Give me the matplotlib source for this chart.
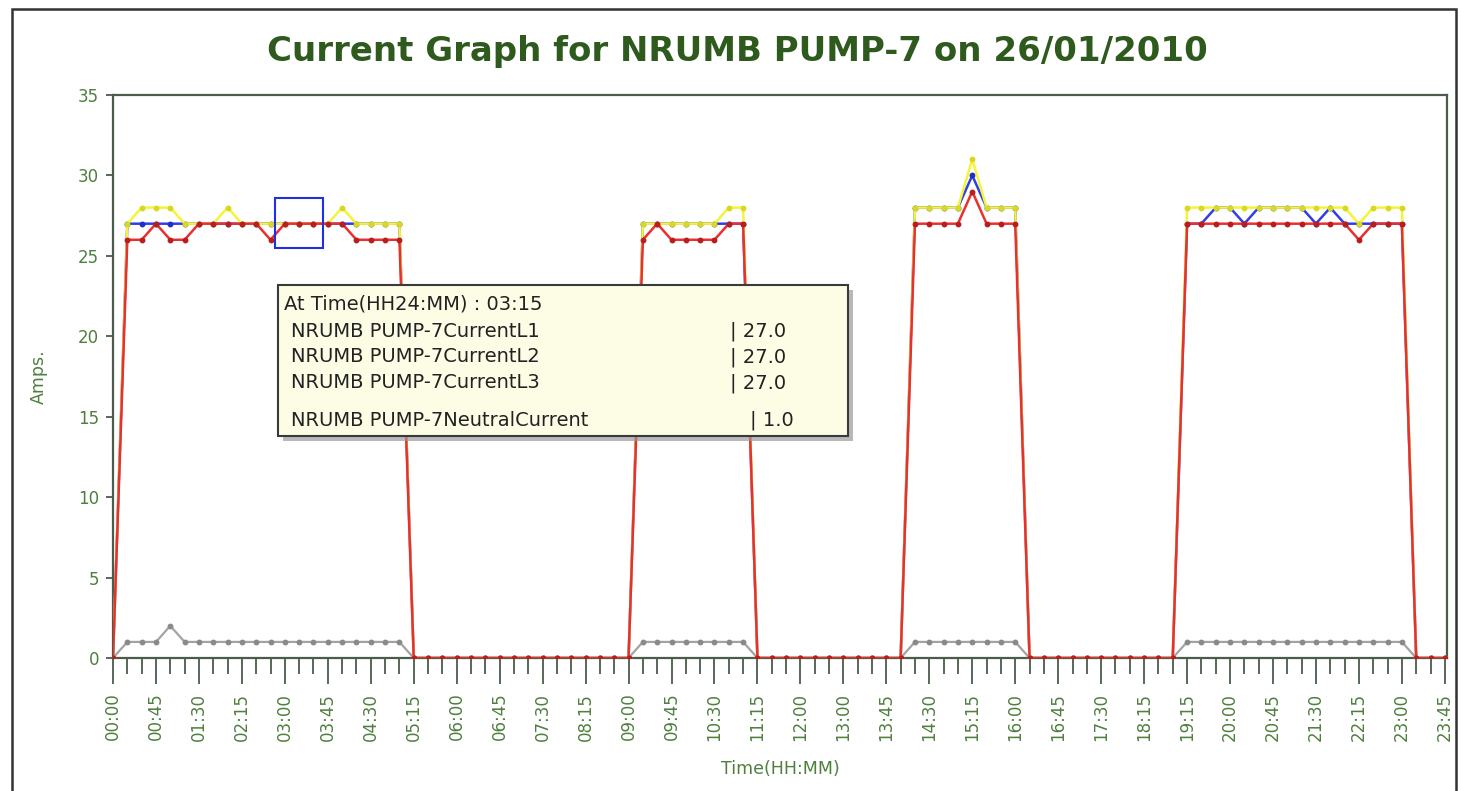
import matplotlib
matplotlib.use("Agg")
import matplotlib.pyplot as plt
from matplotlib.patches import Rectangle

# ---------------- data ----------------
missing_samples = ["12:45", "19:00"]
times = [f"{h:02d}:{m:02d}" for h in range(24) for m in (0, 15, 30, 45)
         if f"{h:02d}:{m:02d}" not in missing_samples]

current_l1 = ([0] +
              [27, 27, 27, 27, 27, 27, 27, 27, 27, 27, 27, 27, 27, 27, 27, 27, 27, 27, 27, 27] +
              [0] * 16 +
              [27, 27, 27, 27, 27, 27, 27, 27] +
              [0] * 11 +
              [28, 28, 28, 28, 30, 28, 28, 28] +
              [0] * 11 +
              [27, 27, 28, 28, 27, 28, 28, 28, 28, 27, 28, 27, 27, 27, 27, 27] +
              [0] * 3)

current_l2 = ([0] +
              [27, 28, 28, 28, 27, 27, 27, 28, 27, 27, 27, 27, 27, 27, 27, 28, 27, 27, 27, 27] +
              [0] * 16 +
              [27, 27, 27, 27, 27, 27, 28, 28] +
              [0] * 11 +
              [28, 28, 28, 28, 31, 28, 28, 28] +
              [0] * 11 +
              [28, 28, 28, 28, 28, 28, 28, 28, 28, 28, 28, 28, 27, 28, 28, 28] +
              [0] * 3)

current_l3 = ([0] +
              [26, 26, 27, 26, 26, 27, 27, 27, 27, 27, 26, 27, 27, 27, 27, 27, 26, 26, 26, 26] +
              [0] * 16 +
              [26, 27, 26, 26, 26, 26, 27, 27] +
              [0] * 11 +
              [27, 27, 27, 27, 29, 27, 27, 27] +
              [0] * 11 +
              [27, 27, 27, 27, 27, 27, 27, 27, 27, 27, 27, 27, 26, 27, 27, 27] +
              [0] * 3)

neutral = ([0] +
           [1, 1, 1, 2, 1, 1, 1, 1, 1, 1, 1, 1, 1, 1, 1, 1, 1, 1, 1, 1] +
           [0] * 16 +
           [1, 1, 1, 1, 1, 1, 1, 1] +
           [0] * 11 +
           [1, 1, 1, 1, 1, 1, 1, 1] +
           [0] * 11 +
           [1, 1, 1, 1, 1, 1, 1, 1, 1, 1, 1, 1, 1, 1, 1, 1] +
           [0] * 3)

series_names = ["NRUMB PUMP-7CurrentL1", "NRUMB PUMP-7CurrentL2",
                "NRUMB PUMP-7CurrentL3", "NRUMB PUMP-7NeutralCurrent"]
highlight_time = "03:15"
title = "Current Graph for NRUMB PUMP-7 on 26/01/2010"
y_ticks = [0, 5, 10, 15, 20, 25, 30, 35]

# ---------------- figure ----------------
W, H = 1462, 791
fig = plt.figure(figsize=(W / 100, H / 100), dpi=100)
fig.patch.set_facecolor("white")


def fx(px):
    return px / W


def fy(py):
    return 1 - py / H


ax = fig.add_axes([fx(113), fy(658), fx(1447) - fx(113), fy(95) - fy(658)])
x = list(range(len(times)))

spine_c = "#4c5c4c"
lab_c = "#4f7f3f"

ax.plot(x, neutral, color="#a3a3a3", lw=1.6, marker="o", ms=3.2,
        mfc="#8a8a8a", mec="#8a8a8a", zorder=2)
ax.plot(x, current_l1, color="#2e3ee8", lw=1.8, marker="o", ms=3.2,
        mfc="#2030c0", mec="#2030c0", zorder=3)
ax.plot(x, current_l2, color="#f4f43a", lw=1.8, marker="o", ms=3.2,
        mfc="#d8d820", mec="#d8d820", zorder=4)
ax.plot(x, current_l3, color="#e8302e", lw=1.8, marker="o", ms=3.2,
        mfc="#b81e1e", mec="#b81e1e", zorder=5)

ax.set_xlim(0, len(times) - 1 + 0.15)
ax.set_ylim(0, 35)

ax.set_yticks(y_ticks)
ax.set_yticklabels([str(v) for v in y_ticks])
ax.set_xticks(x[::3])
ax.set_xticklabels(times[::3], rotation=90)
ax.set_xticks(x, minor=True)

ax.tick_params(axis="x", which="major", length=19, width=1.3, color=spine_c,
               labelsize=12, labelcolor=lab_c, pad=6)
ax.tick_params(axis="x", which="minor", length=11.5, width=1.3, color=spine_c)
ax.tick_params(axis="y", which="major", length=5, width=1.3, color=spine_c,
               labelsize=12, labelcolor=lab_c, pad=5)
for s in ax.spines.values():
    s.set_color(spine_c)
    s.set_linewidth(1.6)

ax.set_xlabel("Time(HH:MM)", fontsize=12.5, color=lab_c, labelpad=14)
ax.set_ylabel("Amps.", fontsize=12.5, color=lab_c, labelpad=22)

# highlight box around hovered point
hi = times.index(highlight_time)
ax.add_patch(Rectangle((hi - 1.68, 25.5), 3.35, 3.1, fill=False,
                       edgecolor="#2030e0", lw=1.5, zorder=6))

# title
fig.text(fx(737), fy(52), title, ha="center", va="center", fontsize=24.5,
         fontweight="bold", color="#2e5a1e")

# outer frame
fig.patches.append(Rectangle((fx(12), fy(800)), fx(1456) - fx(12), fy(9) - fy(800),
                             transform=fig.transFigure, fill=False,
                             edgecolor="#333333", lw=1.8, clip_on=False))

# tooltip
bx0, by0, bx1, by1 = 278, 285, 848, 436
fig.patches.append(Rectangle((fx(bx0 + 5), fy(by1 + 5)), fx(bx1) - fx(bx0),
                             fy(by0) - fy(by1), transform=fig.transFigure,
                             facecolor="#9a9a9a", edgecolor="none", alpha=0.7,
                             zorder=10))
fig.patches.append(Rectangle((fx(bx0), fy(by1)), fx(bx1) - fx(bx0),
                             fy(by0) - fy(by1), transform=fig.transFigure,
                             facecolor="#fdfde6", edgecolor="#3a3a3a", lw=1.5,
                             zorder=11))
tip_kw = dict(fontsize=14, color="#222222", va="center", zorder=12)
fig.text(fx(284), fy(304), f"At Time(HH24:MM) : {highlight_time}", **tip_kw)
vals = [current_l1[hi], current_l2[hi], current_l3[hi], neutral[hi]]
rows_y = [331, 357, 383, 420]
val_x = [730, 730, 730, 750]
for name, v, ry, vx in zip(series_names, vals, rows_y, val_x):
    fig.text(fx(291), fy(ry), name, **tip_kw)
    fig.text(fx(vx), fy(ry), f"| {float(v):.1f}", **tip_kw)

fig.savefig("out.png", dpi=100)
